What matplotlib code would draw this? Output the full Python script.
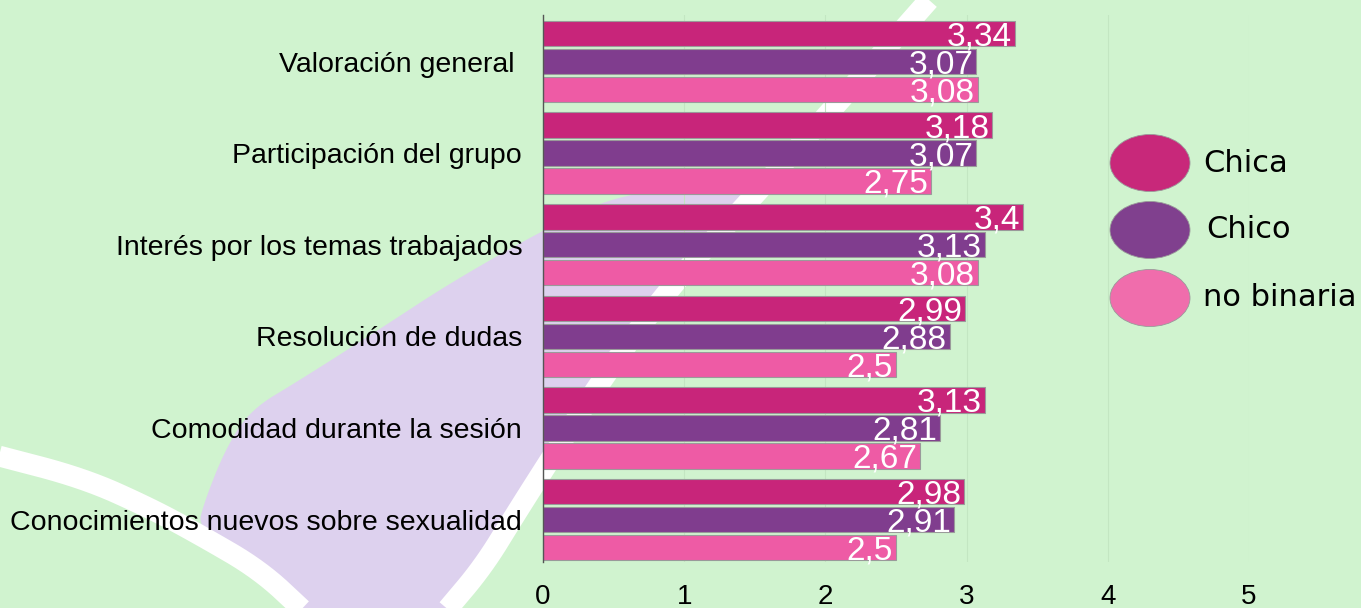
import numpy as np
import matplotlib
matplotlib.use("Agg")
import matplotlib.pyplot as plt
from matplotlib.patches import Polygon, Ellipse

# datos
categorias = ["Valoración general ", "Participación del grupo",
              "Interés por los temas trabajados", "Resolución de dudas",
              "Comodidad durante la sesión", "Conocimientos nuevos sobre sexualidad"]
chica = [3.34, 3.18, 3.40, 2.99, 3.13, 2.98]
chico = [3.07, 3.07, 3.13, 2.88, 2.81, 2.91]
no_binaria = [3.08, 2.75, 3.08, 2.50, 2.67, 2.50]
series = ["Chica", "Chico", "no binaria"]
etiquetas = [["3,34", "3,18", "3,4", "2,99", "3,13", "2,98"],
             ["3,07", "3,07", "3,13", "2,88", "2,81", "2,91"],
             ["3,08", "2,75", "3,08", "2,5", "2,67", "2,5"]]

colores = ["#C8257A", "#803D8E", "#EE5BA5"]
colores_ley = ["#C8287A", "#80408E", "#F06DAC"]
fondo = "#D0F3CF"
lila = "#DDD1EE"


def suavizar(pts, n=3):
    # Chaikin, solo para las formas del fondo
    pts = np.asarray(pts, float)
    for _ in range(n):
        q = 0.75 * pts[:-1] + 0.25 * pts[1:]
        r = 0.25 * pts[:-1] + 0.75 * pts[1:]
        nuevo = np.empty((2 * len(q), 2))
        nuevo[0::2] = q
        nuevo[1::2] = r
        pts = np.vstack([pts[0], nuevo, pts[-1]])
    return pts


fig = plt.figure(figsize=(13.61, 6.08), dpi=100)
fig.patch.set_facecolor(fondo)

# fondo decorativo en pixeles
bg = fig.add_axes([0, 0, 1, 1], zorder=-1)
bg.set_xlim(0, 1361)
bg.set_ylim(608, 0)
bg.axis("off")
borde = suavizar([(760, 186), (690, 189), (617, 195), (543, 230), (450, 283),
                  (383, 327), (300, 380), (250, 410), (225, 450), (205, 500),
                  (197, 530), (260, 570), (300, 610)])
linea1 = suavizar([(929, 0), (838, 103), (753, 197), (667, 290), (600, 382),
                   (548, 463), (515, 515), (483, 567), (445, 612)])
bg.add_patch(Polygon(np.vstack([borde, linea1[::-1]]), closed=True,
                     facecolor=lila, edgecolor="none"))
bg.plot(linea1[:, 0], linea1[:, 1], color="white", lw=15, solid_capstyle="butt")
linea2 = suavizar([(-5, 455), (83, 478), (150, 508), (200, 535), (260, 570), (305, 612)])
bg.plot(linea2[:, 0], linea2[:, 1], color="white", lw=15, solid_capstyle="butt")

# leyenda
ley_y = [163, 230, 298]
ley_x = [1203, 1206, 1203]
for i in range(3):
    bg.add_patch(Ellipse((1150, ley_y[i]), 80, 57, facecolor=colores_ley[i],
                         edgecolor="#9a9a9a", lw=0.6))
    bg.text(ley_x[i], ley_y[i], series[i], fontsize=22, family="DejaVu Sans",
            va="center", ha="left", color="black")

# grafico
ax = fig.add_axes([543/1361, 46/608, 706/1361, 547/608])
ax.set_facecolor("none")
y = np.arange(len(categorias))
paso = 0.305
alto = 0.278
valores = [chica, chico, no_binaria]
for k in range(3):
    pos = y + (k - 1) * paso
    ax.barh(pos, valores[k], height=alto, color=colores[k], edgecolor="#9a9a9a",
            linewidth=0.8, zorder=3)
    for p, v, t in zip(pos, valores[k], etiquetas[k]):
        ax.text(v - 0.02, p + 0.13, t, ha="right", va="baseline", color="white",
                fontsize=24, family="Liberation Sans", zorder=4)

ax.set_xlim(0, 5)
ax.set_ylim(5.464, -0.508)
ax.set_xticks([0, 1, 2, 3, 4, 5])
ax.set_xticklabels(["0", "1", "2", "3", "4", "5"], family="Liberation Sans", fontsize=20)
ax.set_yticks(y)
ax.set_yticklabels(categorias, family="Liberation Sans", fontsize=20.5)
ax.tick_params(axis="both", length=0)
ax.tick_params(axis="y", pad=15)
ax.tick_params(axis="x", pad=16)
ax.xaxis.grid(True, color="#C3E6C2", lw=0.8, zorder=0)
ax.set_axisbelow(True)
for s in ["top", "right", "bottom"]:
    ax.spines[s].set_visible(False)
ax.spines["left"].set_color("#555555")
ax.spines["left"].set_linewidth(1)
ax.spines["left"].set_zorder(5)

fig.savefig("out.png", dpi=100, facecolor=fondo)
